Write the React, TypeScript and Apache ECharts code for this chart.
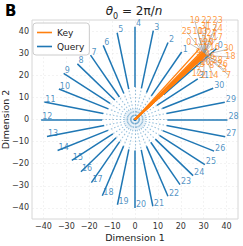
import React, { useEffect, useRef } from "react";
import * as echarts from "echarts";

// Query vectors: angle (degrees) and length, index = label
const QUERY_ANGLE = [42, 56.25, 67.5, 78.75, 90, 101.25, 112.5, 123.75, 135, 146.25, 157.5, 168.75, 180, 191.25, 202.5, 213.75, 225, 236.25, 247.5, 258.75, 270, 281.25, 292.5, 303.75, 315, 326.25, 337.5, 348.75, 360, 11.25, 22.5, 33.75];
const QUERY_LEN = [48, 36.7, 37.7, 41, 42, 40, 36.3, 35, 35.6, 37.5, 36, 40.4, 41, 39.2, 36.6, 33.2, 33.4, 34.3, 37.3, 39.3, 40, 40, 37.6, 35.4, 35.9, 36.7, 37.4, 40.2, 40.4, 40, 37, 33];

// Key vectors: end points
const KEY_X = [28.0, 30.4, 30.3, 30.6, 30.3, 30.1, 30.5, 30.6, 30.4, 30.0, 29.8, 29.2, 30.2, 29.9, 30.4, 30.3, 30.5, 30.1, 30.8, 30.0, 30.4, 30.1, 29.9, 30.4, 30.3, 29.6, 30.7, 30.1, 30.6, 30.2, 30.7, 30.3];
const KEY_Y = [31.8, 29.5, 29.0, 29.1, 29.4, 29.2, 29.3, 28.9, 29.0, 29.8, 30.2, 30.9, 28.9, 30.0, 28.9, 29.1, 29.6, 29.7, 28.9, 30.1, 29.2, 29.7, 30.0, 29.8, 29.8, 30.5, 29.2, 29.9, 29.1, 29.5, 29.3, 29.4];
// Key label positions (repelled labels)
const KEY_LABEL_X = [23.5, 30.9, 30.0, 39.1, 31.7, 29.1, 33.9, 40.9, 33.5, 27.8, 27.4, 27.8, 27.0, 29.6, 34.3, 28.3, 34.8, 36.1, 41.7, 26.1, 30.9, 31.3, 31.3, 36.1, 36.1, 22.6, 38.3, 33.5, 36.1, 32.2, 40.9, 30.9];
const KEY_LABEL_Y = [34.6, 32.4, 20.1, 22.4, 29.6, 27.8, 28.7, 20.1, 24.2, 30.5, 39.6, 34.6, 20.6, 40.0, 19.7, 25.1, 32.4, 37.3, 28.3, 44.6, 26.0, 36.4, 45.0, 44.6, 41.0, 39.6, 24.7, 38.7, 26.5, 34.6, 31.9, 41.9];

const TICKS = [-40, -30, -20, -10, 0, 10, 20, 30, 40];
const AXIS_MIN = -45;
const AXIS_MAX = 45;

const BLUE = "#1f77b4";
const ORANGE = "#ff7f0e";
const FONT = "DejaVu Sans";

const fmt = (v: number) => String(v).replace("-", "\u2212");

export default function App() {
  const ref = useRef<HTMLDivElement>(null);
  useEffect(() => {
    const chart = echarts.init(ref.current!, null, { renderer: "svg" });
    const qx = QUERY_ANGLE.map((a, i) => QUERY_LEN[i] * Math.cos((a * Math.PI) / 180));
    const qy = QUERY_ANGLE.map((a, i) => QUERY_LEN[i] * Math.sin((a * Math.PI) / 180));
    const split = 0.35;
    const gridLines: any[] = [];
    TICKS.forEach((t) => {
      gridLines.push({ coords: [[t, AXIS_MIN], [t, AXIS_MAX]] });
      gridLines.push({ coords: [[AXIS_MIN, t], [AXIS_MAX, t]] });
    });
    const axisCommon = {
      type: "value" as const,
      min: AXIS_MIN,
      max: AXIS_MAX,
      splitLine: { show: false },
      axisLine: { show: false },
      axisTick: { show: false, customValues: TICKS },
      axisLabel: {
        customValues: TICKS,
        formatter: fmt,
        fontSize: 8,
        color: "#333",
        fontFamily: FONT,
        margin: 3,
      },
      nameLocation: "middle" as const,
      nameMoveOverlap: false,
      nameTextStyle: { fontSize: 9.5, color: "#222", fontFamily: FONT },
    };
    chart.setOption({
      animation: false,
      backgroundColor: "#fff",
      grid: {
        left: 32,
        right: 5,
        top: 20,
        bottom: 27,
        containLabel: false,
        outerBoundsMode: "none",
        show: true,
        borderColor: "#d6d6d6",
        borderWidth: 1,
      },
      xAxis: { ...axisCommon, name: "Dimension 1", nameGap: 13 },
      yAxis: { ...axisCommon, name: "Dimension 2", nameGap: 22 },
      legend: {
        left: 33,
        top: 23,
        orient: "vertical",
        itemWidth: 15,
        itemHeight: 1.6,
        itemGap: 5,
        padding: [5, 5, 4, 4],
        borderColor: "#ccc",
        borderWidth: 1,
        borderRadius: 3,
        backgroundColor: "rgba(255,255,255,0.85)",
        itemStyle: { borderWidth: 0 },
        textStyle: { fontSize: 9, fontFamily: FONT, color: "#222" },
        data: [
          { name: "Key", icon: "rect", itemStyle: { color: ORANGE, borderWidth: 0 } },
          { name: "Query", icon: "rect", itemStyle: { color: BLUE, borderWidth: 0 } },
        ],
      },
      graphic: [
        {
          type: "text",
          x: 5,
          y: 3,
          style: { text: "B", fontSize: 15, fontWeight: "bold", fontFamily: FONT, fill: "#000" },
        },
        {
          type: "text",
          x: 134,
          y: 5,
          style: {
            text: "{i|θ}{s|0}{r| = 2π/}{i|n}",
            align: "center",
            fontFamily: FONT,
            rich: {
              i: { fontSize: 12, fontStyle: "italic", fontFamily: FONT, fill: "#222", lineHeight: 14, verticalAlign: "top" },
              s: { fontSize: 8, fontFamily: FONT, fill: "#222", lineHeight: 14, padding: [7, 0, 0, 0], verticalAlign: "top" },
              r: { fontSize: 12, fontFamily: FONT, fill: "#222", lineHeight: 14, verticalAlign: "top" },
            },
          },
        },
      ],
      series: [
        {
          type: "lines",
          coordinateSystem: "cartesian2d",
          silent: true,
          z: 0,
          lineStyle: { color: "#e2e2e2", width: 0.8, type: [2, 2] },
          data: gridLines,
        },
        {
          type: "scatter",
          silent: true,
          z: 1,
          symbolSize: 22,
          itemStyle: { color: "rgba(31,119,180,0.12)" },
          data: [[0, 0]],
        },
        {
          type: "lines",
          coordinateSystem: "cartesian2d",
          silent: true,
          z: 2,
          lineStyle: { color: BLUE, width: 1.1, opacity: 0.45, type: [1.5, 2] },
          data: qx.map((x, i) => ({ coords: [[0, 0], [x * split, qy[i] * split]] })),
        },
        {
          name: "Query",
          type: "lines",
          coordinateSystem: "cartesian2d",
          z: 3,
          itemStyle: { color: BLUE },
          lineStyle: { color: BLUE, width: 1.5, opacity: 1 },
          data: qx.map((x, i) => ({ coords: [[x * split, qy[i] * split], [x, qy[i]]] })),
        },
        {
          type: "scatter",
          z: 4,
          symbolSize: 0,
          silent: true,
          data: qx.map((x, i) => [x, qy[i], i]),
          label: {
            show: true,
            formatter: (p: any) => String(p.value[2]),
            position: [1, 1],
            align: "left",
            verticalAlign: "bottom",
            fontSize: 8,
            fontFamily: FONT,
            color: BLUE,
          },
        },
        {
          type: "lines",
          coordinateSystem: "cartesian2d",
          silent: true,
          z: 5,
          lineStyle: { color: "#888", width: 0.6, opacity: 0.9 },
          data: KEY_X.map((x, i) => ({ coords: [[x, KEY_Y[i]], [KEY_LABEL_X[i], KEY_LABEL_Y[i]]] })),
        },
        {
          name: "Key",
          type: "lines",
          coordinateSystem: "cartesian2d",
          z: 6,
          itemStyle: { color: ORANGE },
          lineStyle: { color: ORANGE, width: 1.3, opacity: 1 },
          data: KEY_X.map((x, i) => ({ coords: [[0, 0], [x, KEY_Y[i]]] })),
        },
        {
          type: "scatter",
          z: 7,
          symbolSize: 0,
          silent: true,
          data: KEY_LABEL_X.map((x, i) => [x, KEY_LABEL_Y[i], i]),
          label: {
            show: true,
            formatter: (p: any) => String(p.value[2]),
            position: "inside",
            fontSize: 8,
            fontFamily: FONT,
            color: ORANGE,
          },
          labelLayout: { hideOverlap: false },
        },
      ],
    });
    return () => chart.dispose();
  }, []);
  return <div ref={ref} style={{ position: "fixed", left: 0, top: 0, width: 243, height: 246 }} />;
}
